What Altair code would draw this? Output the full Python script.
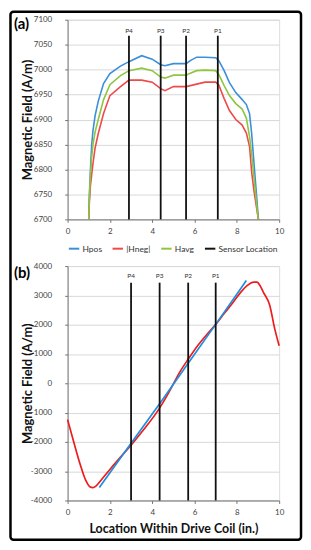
import altair as alt
import pandas as pd

FONT = "Lato"

# ---------------- panel (a) ----------------
x_a = [1.0, 1.03, 1.08, 1.14, 1.2, 1.3, 1.45, 1.7, 2.0, 2.5, 2.9, 3.5, 4.0, 4.4, 4.6,
       5.0, 5.6, 5.8, 6.1, 6.5, 7.0, 7.15, 7.4, 7.65, 7.95, 8.25, 8.45, 8.6, 8.7,
       8.8, 8.9, 9.0, 9.02]
hpos_a = [6700, 6750, 6800, 6850, 6878, 6908, 6937, 6972, 6992, 7007, 7016, 7028, 7021,
          7010, 7008, 7012, 7012, 7018, 7025, 7025, 7024, 7018, 6998, 6974, 6954, 6940,
          6930, 6912, 6872, 6818, 6765, 6710, 6700]
hneg_a = [6700, 6735, 6768, 6790, 6812, 6843, 6872, 6912, 6948, 6966, 6979, 6979, 6975,
          6962, 6958, 6966, 6966, 6968, 6971, 6975, 6975, 6969, 6942, 6918, 6900, 6889,
          6873, 6846, 6795, 6760, 6732, 6705, 6700]
havg_a = [6700, 6745, 6790, 6825, 6850, 6875, 6900, 6940, 6970, 6988, 6998, 7003, 6998,
          6985, 6983, 6989, 6989, 6993, 6998, 6999, 6998, 6990, 6968, 6948, 6932, 6921,
          6903, 6866, 6830, 6788, 6745, 6705, 6700]
sensor_names = ["P4", "P3", "P2", "P1"]
sensor_x_a = [2.9, 4.4, 5.6, 7.1]
sensor_top_a = 7068
sensor_label_a = 7077
y_ticks_a = [6700, 6750, 6800, 6850, 6900, 6950, 7000, 7050, 7100]

# ---------------- panel (b) ----------------
x_b_neg = [0.0, 0.3, 0.6, 0.85, 1.05, 1.2, 1.35, 1.6, 2.0, 2.5, 3.0, 3.6, 4.3, 4.7, 5.0,
           5.3, 5.7, 6.2, 6.6, 7.0, 7.4, 7.8, 8.2, 8.5, 8.8, 8.95, 9.1, 9.25, 9.55,
           9.8, 10.0]
hneg_b = [-1240, -2030, -2780, -3300, -3530, -3560, -3500, -3290, -2940, -2520, -2110,
          -1580, -900, -420, -20, 380, 820, 1330, 1680, 2010, 2380, 2740, 3120, 3340,
          3450, 3450, 3330, 3110, 2670, 1830, 1280]
x_b_pos = [1.5, 3.0, 4.35, 5.7, 7.0, 8.45]
hpos_b = [-3560, -2050, -700, 680, 2010, 3510]
sensor_x_b = [3.0, 4.35, 5.7, 7.0]
sensor_top_b = 3434
sensor_label_b = 3650
y_ticks_b = [-4000, -3000, -2000, -1000, 0, 1000, 2000, 3000, 4000]
x_ticks = [0, 2, 4, 6, 8, 10]

series_names = ["Hpos", "|Hneg|", "Havg", "Sensor Location"]
series_colors = ["#3a8fdb", "#ee4a4a", "#8dc63f", "#111111"]

W, HA, HB = 213, 201, 236

rows = []
for name, vals in [("Hpos", hpos_a), ("|Hneg|", hneg_a), ("Havg", havg_a)]:
    for xv, yv in zip(x_a, vals):
        rows.append({"x": xv, "y": yv, "series": name})
df_a = pd.DataFrame(rows)
sens_a = pd.DataFrame({"x": sensor_x_a, "y": [6700] * 4, "y2": [sensor_top_a] * 4,
                       "series": ["Sensor Location"] * 4})
lab_a = pd.DataFrame({"x": sensor_x_a, "y": [sensor_label_a] * 4, "name": sensor_names})

df_bn = pd.DataFrame({"x": x_b_neg, "y": hneg_b})
df_bp = pd.DataFrame({"x": x_b_pos, "y": hpos_b})
sens_b = pd.DataFrame({"x": sensor_x_b, "y": [-4000] * 4, "y2": [sensor_top_b] * 4})
lab_b = pd.DataFrame({"x": sensor_x_b, "y": [sensor_label_b] * 4, "name": sensor_names})

axis_common = dict(labelFont=FONT, labelFontSize=8, labelColor="#444",
                   domainColor="#777", tickColor="#777", tickSize=3,
                   labelExpr="'' + datum.value", labelOverlap=False, labelFlush=False)

x_scale = alt.Scale(domain=[0, 10], nice=False)
X_A = alt.X("x:Q", scale=x_scale,
            axis=alt.Axis(values=x_ticks, title=None, grid=False, labelPadding=5,
                          **axis_common))
Y_A = alt.Y("y:Q", scale=alt.Scale(domain=[6700, 7100], nice=False, zero=False),
            axis=alt.Axis(values=y_ticks_a, tickCount=len(y_ticks_a),
                          title="Magnetic Field (A/m)",
                          grid=True, gridColor="#d9d9d9", labelPadding=13,
                          titleX=-33, titleFont=FONT, titleFontSize=13,
                          titleFontWeight="bold", titleColor="#111", **axis_common))

color = alt.Color("series:N",
                  scale=alt.Scale(domain=series_names, range=series_colors),
                  legend=alt.Legend(title=None, orient="none", legendX=0, legendY=224,
                                    direction="horizontal", symbolType="stroke",
                                    symbolSize=110, symbolStrokeWidth=2,
                                    labelFont=FONT, labelFontSize=8.5, labelColor="#333",
                                    columnPadding=6, labelOffset=2))

lines_a = alt.Chart(df_a).mark_line(strokeWidth=1.6, clip=True).encode(
    x=X_A, y=Y_A, color=color, detail="series:N")
rules_a = alt.Chart(sens_a).mark_rule(strokeWidth=1.8).encode(
    x=X_A, y=Y_A, y2="y2:Q", color=color)
labels_a = alt.Chart(lab_a).mark_text(font=FONT, fontSize=6.5, color="#333",
                                      baseline="middle").encode(
    x=X_A, y=Y_A, text="name:N")

one = alt.Data(values=[{"k": 1}])
frame = alt.Chart(one).mark_rect(fill="transparent", stroke="#000", strokeWidth=2.5,
                                  cornerRadius=3).encode(
    x=alt.value(-57.5), x2=alt.value(235), y=alt.value(-8), y2=alt.value(523.5))
tag_a = alt.Chart(one).mark_text(font=FONT, fontSize=15, fontWeight="bold", align="left",
                                 baseline="middle", color="#000").encode(
    x=alt.value(-54), y=alt.value(4), text=alt.value("(a)"))

top = alt.layer(lines_a, rules_a, labels_a, tag_a, frame).properties(width=W, height=HA)

X_B = alt.X("x:Q", scale=x_scale,
            axis=alt.Axis(values=x_ticks, title="Location Within Drive Coil (in.)",
                          grid=False, labelPadding=5, titlePadding=6, titleFont=FONT,
                          titleFontSize=12.5, titleFontWeight="bold", titleColor="#111",
                          **axis_common))
Y_B = alt.Y("y:Q", scale=alt.Scale(domain=[-4000, 4000], nice=False),
            axis=alt.Axis(values=y_ticks_b, tickCount=len(y_ticks_b),
                          title="Magnetic Field (A/m)",
                          grid=True, gridColor="#d9d9d9", labelPadding=13,
                          titleX=-33, titleFont=FONT, titleFontSize=13,
                          titleFontWeight="bold", titleColor="#111", **axis_common))

red_b = alt.Chart(df_bn).mark_line(strokeWidth=1.7, color="#ee1c1c",
                                   interpolate="monotone").encode(x=X_B, y=Y_B)
blue_b = alt.Chart(df_bp).mark_line(strokeWidth=1.7, color="#1c8fe0").encode(x=X_B, y=Y_B)
rules_b = alt.Chart(sens_b).mark_rule(strokeWidth=1.8, color="#111").encode(
    x=X_B, y=Y_B, y2="y2:Q")
labels_b = alt.Chart(lab_b).mark_text(font=FONT, fontSize=6.5, color="#333",
                                      baseline="middle").encode(
    x=X_B, y=Y_B, text="name:N")
tag_b = alt.Chart(one).mark_text(font=FONT, fontSize=15, fontWeight="bold", align="left",
                                 baseline="middle", color="#000").encode(
    x=alt.value(-54), y=alt.value(7), text=alt.value("(b)"))

bottom = alt.layer(red_b, blue_b, rules_b, labels_b, tag_b).properties(width=W, height=HB)

chart = alt.vconcat(top, bottom, spacing=47, bounds="flush").properties(
    padding=0, background="white"
).configure_view(stroke="#888", strokeWidth=1).configure_axis(
    labelOverlap=False).configure(font=FONT)

chart.save("out.html", embed_options={"renderer": "svg", "actions": False})
